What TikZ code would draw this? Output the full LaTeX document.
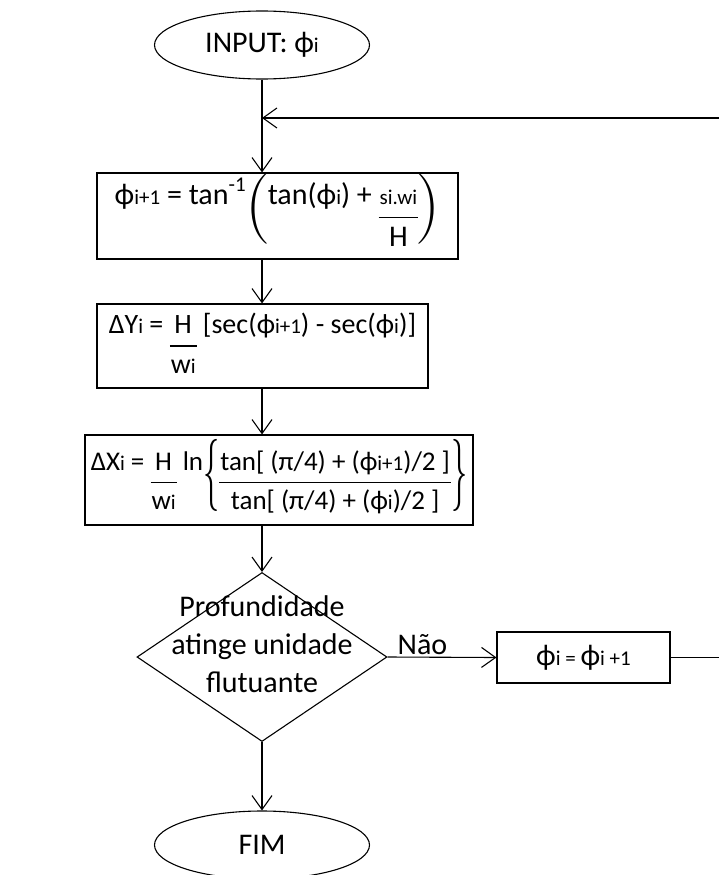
\documentclass[tikz,border=0pt]{standalone}
\usepackage{fontspec}
\setmainfont{Carlito}
\usepackage{graphicx}
\usetikzlibrary{shapes.geometric,arrows.meta}
% index text (the small i, i+1 after phi)
\newcommand{\idx}[1]{{\fontsize{21}{25}\selectfont #1}}
\newcommand{\frc}[2]{\begin{tabular}[t]{@{\hspace{1pt}}c@{\hspace{1pt}}}#1\\\hline #2\end{tabular}}
\newcommand{\lpar}{\raisebox{-22pt}{\scalebox{2.85}{$\biggl($}}\hspace{-3pt}}
\newcommand{\rpar}{\hspace{-3pt}\raisebox{-22pt}{\scalebox{2.85}{$\biggr)$}}}
\newcommand{\lbr}{\raisebox{-23pt}{\scalebox{1.3}[2.9]{$\biggl\{$}}}
\newcommand{\rbr}{\raisebox{-23pt}{\scalebox{1.3}[2.9]{$\biggr\}$}}}
\setlength{\arrayrulewidth}{1.1pt}
\renewcommand{\arraystretch}{1.1}
\tikzset{
  base/.style={font=\fontsize{30}{37}\selectfont, line width=1.1pt},
  term/.style={base, draw, ellipse, minimum width=215pt, minimum height=68pt, inner sep=0pt},
  proc/.style={base, draw, rectangle, inner sep=0pt},
  decision/.style={base, draw, diamond, minimum width=250pt, minimum height=169pt, inner sep=0pt},
  flow/.style={line width=1.1pt, -{Straight Barb[length=14pt,width=20pt,line width=1.1pt]}}
}
\begin{document}
\begin{tikzpicture}[x=1pt, y=-1pt]
  \useasboundingbox (0,0) rectangle (718,875);
  % start
  \node[term] (inp) at (262,45) {INPUT: ϕ\idx{i}};
  \coordinate (junc) at (262,118);
  % formulas
  \node[proc, minimum width=361pt, minimum height=86pt] (phinext) at (277.5,216)
    {ϕ\idx{i+1} = tan\raisebox{0.45em}{\idx{-1}}\lpar tan(ϕ\idx{i}) + \frc{\idx{si.wi}}{H}\rpar};
  \node[proc, minimum width=331pt, minimum height=84pt,
        font=\fontsize{28}{35}\selectfont] (dy) at (262.5,346)
    {ΔY\idx{i} = \frc{H}{w\idx{i}} [sec(ϕ\idx{i+1}) - sec(ϕ\idx{i})]};
  \node[proc, minimum width=388pt, minimum height=90pt,
        font=\fontsize{27}{34}\selectfont] (dx) at (279,480)
    {ΔX\idx{i} = \frc{H}{w\idx{i}} ln\lbr\frc{tan[ (π/4) + (ϕ\idx{i+1})/2 ]}{tan[ (π/4) + (ϕ\idx{i})/2 ]}\rbr};
  % test
  \node[decision] (depth) at (262,657)
    {\raisebox{0.3em}{\smash{\makebox[0pt]{\begin{tabular}{@{}c@{}}Profundidade\\[-3pt]atinge unidade\\[-3pt]flutuante\end{tabular}}}}};
  \node[proc, minimum width=173pt, minimum height=51pt] (upd) at (583.5,657.5)
    {ϕ\idx{i = }ϕ\idx{i +1}};
  \node[term] (fim) at (262,845) {FIM};
  \coordinate (ret) at (724,657.5);
  \coordinate (back) at (724,118);
  % connectors
  \draw[flow] (inp) -- (inp |- phinext.north);
  \draw[flow] (back) -- (junc);
  \draw[flow] (phinext.south -| inp) -- (inp |- dy.north);
  \draw[flow] (dy.south -| inp) -- (inp |- dx.north);
  \draw[flow] (dx.south -| inp) -- (depth.north);
  \draw[flow] (depth.east) -- node[base, pos=0.32, above, inner sep=2pt] {Não} (upd.west);
  \draw[base] (upd.east) -- (ret) -- (back);
  \draw[flow] (depth.south) -- (fim.north);
\end{tikzpicture}
\end{document}
